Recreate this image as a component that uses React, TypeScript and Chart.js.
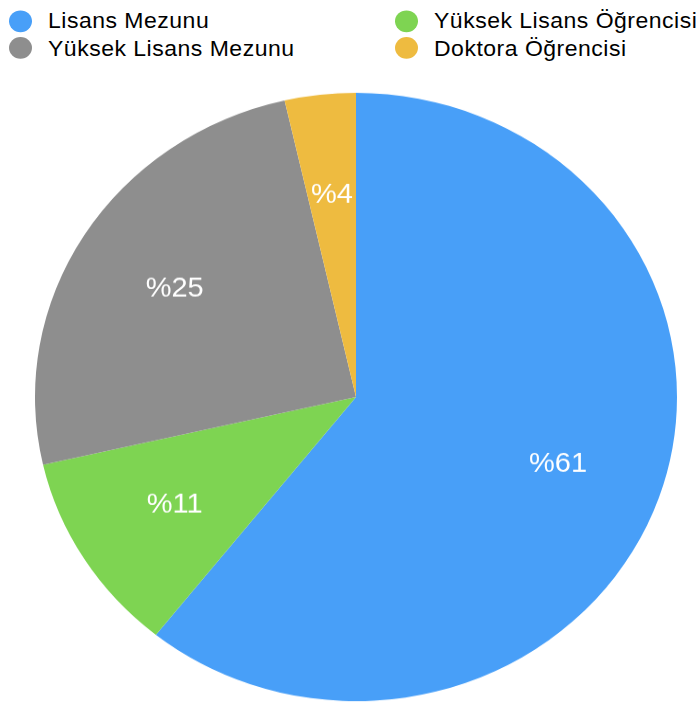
import React, { useEffect, useRef } from "react";
import { Chart, registerables } from "chart.js";

Chart.register(...registerables);

const categories = [
  "Lisans Mezunu",
  "Yüksek Lisans Öğrencisi",
  "Yüksek Lisans Mezunu",
  "Doktora Öğrencisi",
];
const counts = [17, 3, 7, 1];
const colors = ["#489FF8", "#7ED452", "#8E8E8E", "#EEBB40"];

const FONT = '"Liberation Sans", Arial, Helvetica, sans-serif';
const SCALE_Y = 0.9475;

const sliceLabels = {
  id: "sliceLabels",
  afterDatasetsDraw(chart: any) {
    const ctx = chart.ctx;
    const meta = chart.getDatasetMeta(0);
    const total = counts.reduce((a, b) => a + b, 0);
    ctx.save();
    ctx.fillStyle = "#ffffff";
    ctx.font = `29px ${FONT}`;
    ctx.textAlign = "center";
    ctx.textBaseline = "middle";
    meta.data.forEach((arc: any, i: number) => {
      const p = arc.getProps(["startAngle", "endAngle", "x", "y", "outerRadius"], true);
      const mid = (p.startAngle + p.endAngle) / 2;
      const r = p.outerRadius * 0.667;
      ctx.fillText(
        "%" + Math.round((counts[i] / total) * 100),
        p.x + Math.cos(mid) * r,
        p.y + Math.sin(mid) * r
      );
    });
    ctx.restore();
  },
};

export default function App() {
  const canvasRef = useRef<HTMLCanvasElement | null>(null);

  useEffect(() => {
    if (!canvasRef.current) return;
    const chart = new Chart(canvasRef.current, {
      type: "pie",
      data: {
        labels: categories,
        datasets: [
          {
            data: counts,
            backgroundColor: colors,
            borderWidth: 0,
          },
        ],
      },
      options: {
        responsive: false,
        animation: false,
        layout: { padding: 0 },
        plugins: {
          legend: { display: false },
          tooltip: { enabled: false },
        },
      },
      plugins: [sliceLabels],
    });
    return () => chart.destroy();
  }, []);

  const colX = [
    { dot: 20, text: 48 },
    { dot: 406.5, text: 434 },
  ];
  const rowY = [22, 50.7];

  return (
    <div
      style={{
        position: "absolute",
        left: 0,
        top: 0,
        width: 698,
        height: 741,
        overflow: "hidden",
        background: "#ffffff",
        transform: `scaleY(${SCALE_Y})`,
        transformOrigin: "0 0",
        fontFamily: FONT,
      }}
    >
      {categories.map((c, i) => {
        const col = colX[i % 2];
        const cy = rowY[Math.floor(i / 2)];
        return (
          <React.Fragment key={c}>
            <div
              style={{
                position: "absolute",
                left: col.dot - 11.5,
                top: cy - 11.5,
                width: 23,
                height: 23,
                borderRadius: "50%",
                background: colors[i],
              }}
            />
            <div
              style={{
                position: "absolute",
                left: col.text,
                top: cy - 11.2,
                fontSize: 23,
                lineHeight: "23px",
                letterSpacing: "0.5px",
                color: "#000000",
                whiteSpace: "nowrap",
              }}
            >
              {c}
            </div>
          </React.Fragment>
        );
      })}
      <div style={{ position: "absolute", left: 35, top: 98, width: 642, height: 642 }}>
        <canvas ref={canvasRef} width={642} height={642} style={{ display: "block" }} />
      </div>
    </div>
  );
}
